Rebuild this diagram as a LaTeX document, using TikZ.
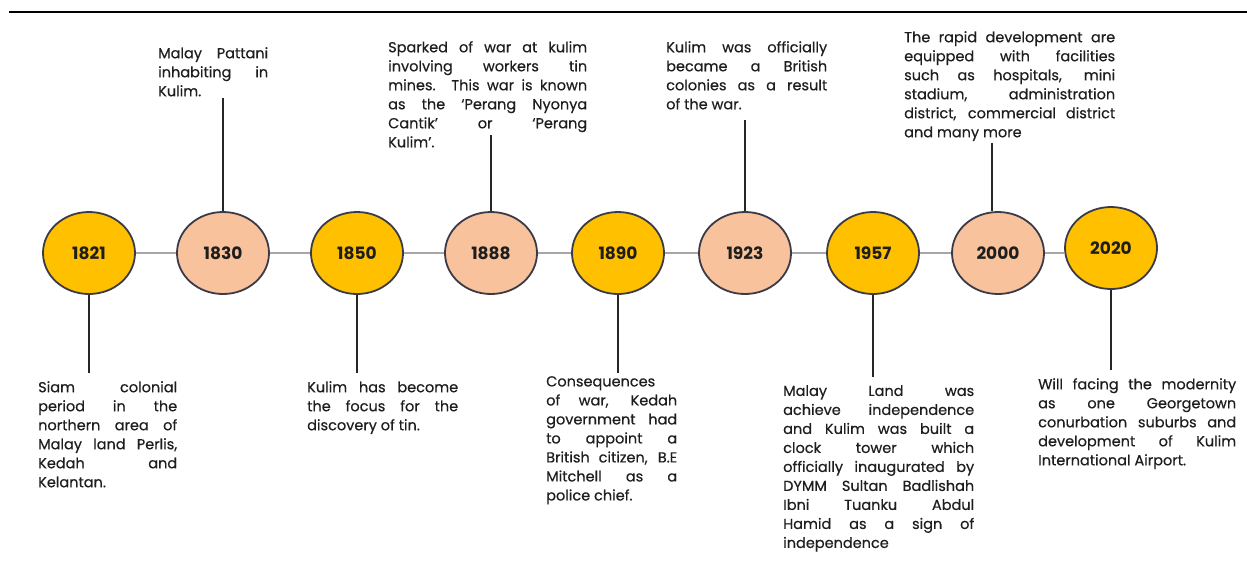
\documentclass[tikz,border=0pt]{standalone}
\usepackage{graphicx}
\usepackage{fontspec}
\setmainfont{Poppins}
\newfontfamily\bodyfont{Poppins}[FakeBold=0.5]
\usetikzlibrary{shapes.geometric}
\definecolor{yel}{HTML}{FFC000}
\definecolor{peach}{HTML}{F8C29C}
\definecolor{rim}{HTML}{3A3A48}
\definecolor{rail}{HTML}{A6A6A6}
\definecolor{ink}{HTML}{1E1E1E}
\newcommand\jf[1]{\setbox0\hbox{#1}\ifdim\wd0>\hsize\hbox to\hsize{\resizebox{\hsize}{\height}{#1}}\else\hbox to\hsize{#1}\fi}
\newcommand\jl[1]{\setbox0\hbox{#1}\ifdim\wd0>\hsize\hbox to\hsize{\resizebox{\hsize}{\height}{#1}}\else\hbox to\hsize{#1\hfil}\fi}
\newcommand\tbox[2]{\vbox{\hsize=#1pt #2}}
\tikzset{
  yearbox/.style={ellipse, draw=rim, line width=1.8pt, minimum width=92pt, minimum height=82pt, inner sep=0pt, text=ink, font=\fontsize{17}{19}\selectfont\bfseries},
  yy/.style={yearbox, fill=yel},
  pp/.style={yearbox, fill=peach},
  rl/.style={draw=rail, line width=2pt},
  stem/.style={draw=black!85, line width=2.4pt},
  txt/.style={anchor=north west, inner sep=0pt, text=ink, font=\bodyfont\fontsize{14.5}{19}\selectfont},
}
\begin{document}
\begin{tikzpicture}[x=1pt,y=-1pt]
\useasboundingbox (0,0) rectangle (1247,563);
\draw[line width=2pt] (9,12) -- (1247,12);
% circles
\node[yy] (c1821) at (89,253) {1821};
\node[pp] (c1830) at (223,253) {1830};
\node[yy] (c1850) at (357,253) {1850};
\node[pp] (c1888) at (491,253) {1888};
\node[yy] (c1890) at (618,253) {1890};
\node[pp] (c1923) at (745,253) {1923};
\node[yy] (c1957) at (873,253) {1957};
\node[pp] (c2000) at (998,253) {2000};
\node[yy] (c2020) at (1111,248) {2020};
% rail
\draw[rl] (c1821) -- (c1830);
\draw[rl] (c1830) -- (c1850);
\draw[rl] (c1850) -- (c1888);
\draw[rl] (c1888) -- (c1890);
\draw[rl] (c1890) -- (c1923);
\draw[rl] (c1923) -- (c1957);
\draw[rl] (c1957) -- (c2000);
\draw[rl] (c2000.east) -- (c2000.east -| c2020.west);
% stem ends
\coordinate (s1830) at (223,98);
\coordinate (s1888) at (491,135);
\coordinate (s1923) at (745,120);
\coordinate (s2000) at (992,143);
\coordinate (s1821) at (89,373);
\coordinate (s1850) at (357,373);
\coordinate (s1890) at (618,373);
\coordinate (s1957) at (873,377);
\coordinate (s2020) at (1111,370);
\draw[stem] (c1830.north) -- (s1830);
\draw[stem] (c1888.north) -- (s1888);
\draw[stem] (c1923.north) -- (s1923);
\draw[stem] (s2000 |- c2000.north) -- (s2000);
\draw[stem] (c1821.south) -- (s1821);
\draw[stem] (c1850.south) -- (s1850);
\draw[stem] (c1890.south) -- (s1890);
\draw[stem] (c1957.south) -- (s1957);
\draw[stem] (c2020.south) -- (s2020);
% texts above
\node[txt] (t1830) at (158,47) {\tbox{110}{\jf{Malay Pattani}\jf{inhabiting in}\jl{Kulim.}}};
\node[txt] (t1888) at (388,41) {\tbox{199}{\jf{Sparked of war at kulim}\jf{involving workers tin}\jf{mines. This war is known}\jf{as the ‘Perang Nyonya}\jf{Cantik’ or ‘Perang}\jl{Kulim’.}}};
\node[txt] (t1923) at (666,41) {\tbox{161}{\jf{Kulim was officially}\jf{became a British}\jf{colonies as a result}\jl{of the war.}}};
\node[txt] (t2000) at (904,31) {\tbox{211}{\jf{The rapid development are}\jf{equipped with facilities}\jf{such as hospitals, mini}\jf{stadium, administration}\jf{district, commercial district}\jl{and many more}}};
% texts below
\node[txt] (b1821) at (38,381) {\tbox{139}{\jf{Siam colonial}\jf{period in the}\jf{northern area of}\jf{Malay land Perlis,}\jf{Kedah and}\jl{Kelantan.}}};
\node[txt] (b1850) at (307,381) {\tbox{151}{\jf{Kulim has become}\jf{the focus for the}\jl{discovery of tin.}}};
\node[txt] (b1890) at (546,376) {\tbox{131}{\jl{Consequences}\jf{of war, Kedah}\jf{government had}\jf{to appoint a}\jf{British citizen, B.E}\jf{Mitchell as a}\jl{police chief.}}};
\node[txt] (b1957) at (783,385) {\tbox{191}{\jf{Malay Land was}\jf{achieve independence}\jf{and Kulim was built a}\jf{clock tower which}\jf{officially inaugurated by}\jf{DYMM Sultan Badlishah}\jf{Ibni Tuanku Abdul}\jf{Hamid as a sign of}\jl{independence}}};
\node[txt] (b2020) at (1038,378) {\tbox{198}{\jf{Will facing the modernity}\jf{as one Georgetown}\jf{conurbation suburbs and}\jf{development of Kulim}\jl{International Airport.}}};
\end{tikzpicture}
\end{document}
